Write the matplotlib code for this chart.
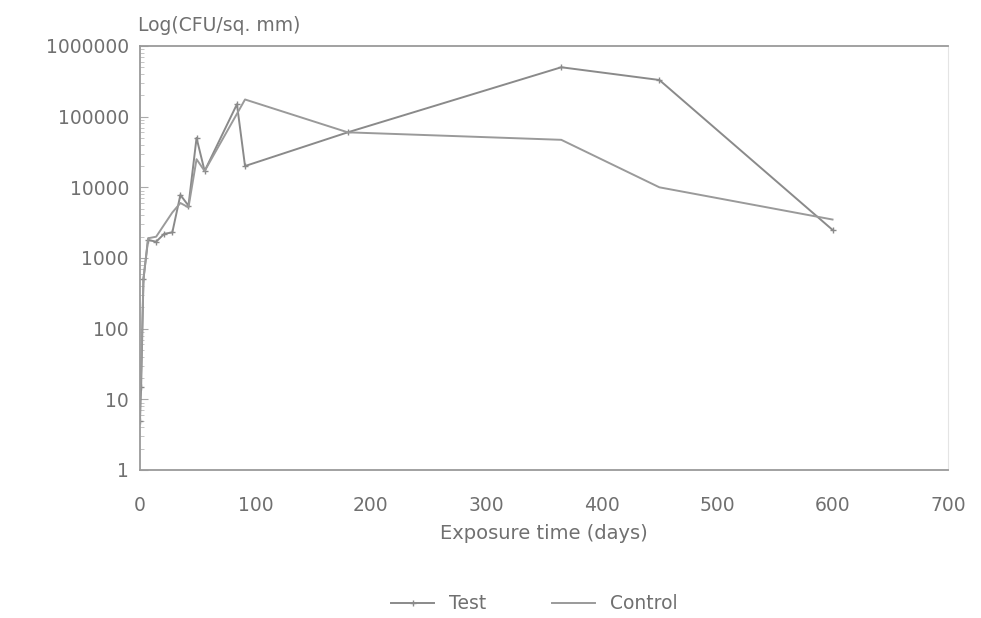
import matplotlib
matplotlib.use("Agg")
import matplotlib.pyplot as plt
from matplotlib.ticker import FixedLocator, FixedFormatter, LogLocator, NullFormatter

# CFU counts per sq. mm over exposure time
test_days = [0, 1, 3, 7, 14, 21, 28, 35, 42, 49, 56, 84, 91, 180, 365, 450, 600]
test_cfu = [5, 15, 500, 1800, 1700, 2200, 2300, 7800, 5500, 50000, 17000,
            150000, 20000, 60000, 500000, 330000, 2500]

control_days = [0, 1, 3, 7, 14, 28, 35, 42, 49, 56, 91, 180, 365, 450, 600]
control_cfu = [10, 25, 500, 1900, 2000, 4400, 6000, 5200, 25000, 17000,
               175000, 60000, 47000, 10000, 3500]

x_ticks = [0, 100, 200, 300, 400, 500, 600, 700]
y_ticks = [1, 10, 100, 1000, 10000, 100000, 1000000]
y_tick_labels = ["1", "10", "100", "1000", "10000", "100000", "1000000"]

txt = "#707070"
plt.rcParams['font.family'] = ['DejaVu Sans']

fig = plt.figure(figsize=(9.81, 6.18), dpi=100)
ax = fig.add_axes([0.1427, 0.2395, 0.8236, 0.6861])

ax.plot(test_days, test_cfu, color="#8a8a8a", linewidth=1.4,
        marker="+", markersize=4, markeredgewidth=1.0, label="Test")
ax.plot(control_days, control_cfu, color="#9a9a9a", linewidth=1.4,
        label="Control")

ax.set_yscale("log")
ax.set_ylim(1, 1000000)
ax.set_xlim(0, 700)

ax.yaxis.set_major_locator(FixedLocator(y_ticks))
ax.yaxis.set_major_formatter(FixedFormatter(y_tick_labels))
ax.yaxis.set_minor_locator(LogLocator(base=10, subs=range(2, 10)))
ax.yaxis.set_minor_formatter(NullFormatter())
ax.tick_params(axis="y", which="major", direction="in", length=6,
               color="#aaaaaa", labelsize=13.5, labelcolor=txt, pad=8)
ax.tick_params(axis="y", which="minor", direction="in", length=3,
               color="#bbbbbb")

ax.set_xticks(x_ticks)
ax.tick_params(axis="x", length=0, labelsize=13.5, labelcolor=txt, pad=19)

for side in ["top", "bottom", "left"]:
    ax.spines[side].set_color("#9a9a9a")
    ax.spines[side].set_linewidth(1.3)
ax.spines["right"].set_color("#e4e4e4")

ax.set_xlabel("Exposure time (days)", fontsize=14, color=txt, labelpad=6)
ax.text(-0.003, 1.025, "Log(CFU/sq. mm)", transform=ax.transAxes,
        fontsize=13.5, color=txt, ha="left", va="bottom")

fig.legend(loc="lower center", bbox_to_anchor=(0.545, -0.02), ncol=2,
           frameon=False, fontsize=13.5, labelcolor=txt,
           handlelength=2.3, columnspacing=3.5)

fig.savefig("out.png", dpi=100, facecolor="white")
